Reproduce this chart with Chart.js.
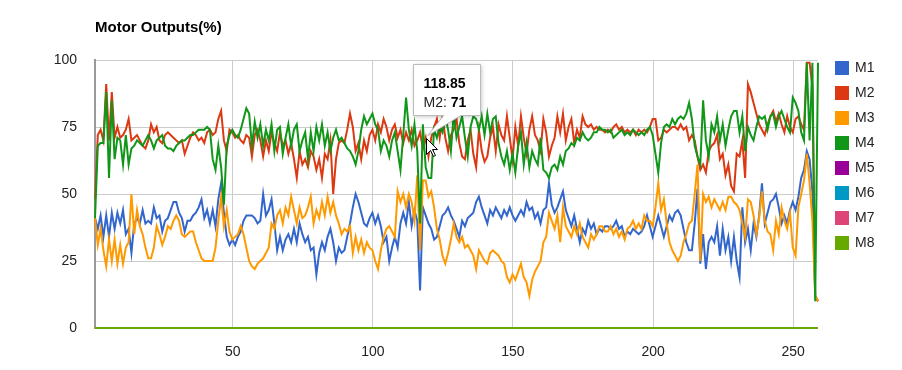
<!DOCTYPE html>
<html>
<head>
<meta charset="utf-8">
<title>Motor Outputs(%)</title>
<script src="https://cdn.jsdelivr.net/npm/chart.js@4.4.1/dist/chart.umd.min.js"></script>
<style>
  html, body { margin: 0; padding: 0; background: #fff; }
  #wrap { width: 902px; height: 370px; }
</style>
</head>
<body>
<div id="wrap"><canvas id="moteurs" width="902" height="370"></canvas></div>
<script>
// samples: x starts at 0.85 and goes up by 1 per sample
const xStart = 0.85;
const xStep = 1;

const m1 = [
  41, 37, 42, 34, 42, 34, 43, 37, 43, 39, 44, 35, 37, 28, 39, 41, 39, 44, 39, 40,
  39, 45, 41, 42, 36, 40, 41, 44, 47, 47, 43, 41, 36, 40, 40, 42, 43, 45, 48, 41,
  44, 39, 44, 38, 48, 54, 43, 34, 31, 33, 31, 34, 36, 40, 42, 42, 42, 41, 39, 40,
  50, 42, 44,
  48, 39, 29, 34, 29, 33, 35, 32, 37, 32, 39, 35, 32, 34, 29, 30, 20, 28, 32, 29,
  34, 37, 32, 25, 30, 28, 29, 34, 39, 45, 50, 47, 43, 39, 38, 41, 43, 39, 42, 38,
  32, 34, 25, 30, 34, 30, 39, 43, 39, 47, 38, 44, 40, 14, 45, 42, 39, 37, 33,
  34, 38, 42, 43, 45, 42, 40, 37, 34, 40, 38, 41, 42, 43, 47, 49, 45, 42, 39, 44,
  42, 45, 43, 41, 44, 42, 45, 42, 40, 42, 44, 42, 47, 44, 45, 41, 43, 39, 44, 45,
  54, 46, 43, 45, 48, 51, 44, 41, 38, 42, 37, 32, 37, 35, 40, 37, 39, 35, 37, 36,
  38,
  38, 37, 38, 40, 37, 38, 34, 36, 35, 37, 36, 35, 36, 38, 42,
  38, 34, 38, 42, 38, 34, 38, 42, 40, 43, 44, 42, 37, 32, 29,
  29, 39, 52, 24, 35, 22, 32, 34, 32, 38, 27, 37, 29, 34, 25,
  34, 25, 19, 45, 32, 37, 29, 39, 34, 42, 54, 39, 43, 47, 48, 50, 45, 39, 42, 39,
  44, 47, 44, 49, 56, 59, 66, 63, 51, 12, 10
];

const m2 = [
  48, 72, 74, 70, 91, 70, 88, 71, 75, 71, 72, 74, 78, 70, 71, 72, 70, 68, 67, 70,
  76, 73, 75, 70, 69, 72, 73, 72, 71, 70, 69, 70, 65, 68, 71, 73, 72, 70, 71, 69,
  73, 74, 72, 73, 78, 81, 70, 66, 74, 73, 71, 72, 70, 69, 72, 71, 64, 72, 74, 70,
  64, 70, 66,
  73, 69, 66, 73, 68, 70, 65, 69, 63, 56, 66, 61, 63, 60, 66, 64, 59, 63, 56, 65,
  63, 70, 50, 63, 69, 70, 69, 74, 80, 75, 66, 69, 63, 70, 66, 72, 74, 70, 76, 73,
  78, 75, 70, 74, 76, 71, 74, 69, 73, 70, 74, 68, 70, 73, 67, 71, 64, 71, 75,
  78, 71, 79, 71, 66, 72, 74, 78, 69, 64, 63, 70, 74, 65, 60, 74, 66, 62, 64, 71,
  75, 66, 76, 72, 70, 79, 71, 63, 75, 68, 79, 71, 65, 74, 79, 72, 70, 66, 78, 73,
  64, 68, 71, 79, 73, 80, 70, 75, 78, 69, 74, 71, 79, 76, 75, 76, 74, 75, 74, 74,
  73,
  74, 73, 75, 76, 74, 75, 73, 74, 73, 74, 72, 74, 73, 74, 73,
  75, 78, 78, 70, 71, 74, 73, 74, 75, 75, 74, 76, 74, 75, 70, 72,
  70, 64, 59, 61, 58, 66, 68, 69, 72, 63, 65, 57, 61, 53, 51, 65, 64, 70, 56, 91,
  88, 84, 80, 76, 74, 72, 76, 79, 81, 77, 80, 76, 73, 79, 75, 73, 78, 79, 76, 74,
  99, 99, 90, 12, 10
];

const m3 = [
  41, 31, 37, 29, 23, 33, 25, 33, 24, 31, 24, 30, 32, 50, 35, 44, 38, 35, 30, 26,
  26, 30, 38, 35, 31, 34, 38, 37, 40, 42, 40, 35, 34, 35, 36, 36, 32, 29, 26, 25,
  25, 25, 25, 30, 40, 49, 38, 44, 36, 33, 34, 35, 38, 35, 30, 25, 23, 22, 24, 25,
  26, 28, 30,
  39, 37, 42, 44, 39, 45, 42, 49, 44, 39, 45, 41, 42, 45, 49, 39, 44, 41, 47, 42,
  49, 43, 47, 42, 39, 35, 37, 36, 38, 28, 34, 29, 33, 28, 32, 30, 29, 25, 22, 29,
  34, 37, 38, 36, 34, 51, 47, 50, 45, 50, 47, 40, 57, 29, 55, 55, 49, 51, 45,
  37, 33, 27, 24, 28, 33, 39, 34, 32, 34, 30, 31, 29, 27, 22, 29, 27, 25, 24, 28,
  29, 28, 27, 25, 24, 19, 17, 20, 18, 21, 24, 19, 17, 12, 18, 21, 23, 25, 32, 34,
  43, 40, 37, 42, 32, 45, 38, 36, 34, 38, 35, 39, 34, 32, 30, 35, 33, 35, 38, 38,
  36,
  36, 38, 35, 37, 34, 36, 33, 37, 38, 40, 37, 39, 37, 42, 40,
  40, 38, 45, 54, 44, 48, 39, 32, 29, 27, 25, 27, 32, 35, 39, 40,
  50, 61, 25, 50, 47, 49, 45, 48, 46, 44, 47, 44, 49, 49, 47, 46, 44, 39, 34, 48,
  47, 42, 35, 41, 51, 40, 36, 35, 29, 40, 35, 45, 40, 37, 43, 30, 27, 45, 50, 55,
  65, 54, 40, 12, 10
];

const m4 = [
  41, 68, 69, 69, 88, 56, 85, 63, 71, 70, 61, 72, 61, 67, 68, 70, 69, 68, 70, 72,
  70, 67, 70, 71, 72, 68, 67, 67, 66, 68, 69, 70, 70, 71, 72, 72, 73, 74, 74, 74,
  75, 74, 63, 59, 68, 60, 46, 68, 72, 74, 72, 71, 74, 78, 82, 80, 68, 77, 71, 76,
  68, 74, 70,
  76, 66, 74, 75, 65, 71, 76, 68, 74, 76, 66, 70, 73, 63, 73, 66, 75, 70, 76, 68,
  73, 66, 71, 74, 70, 71, 69, 67, 66, 64, 61, 66, 74, 79, 76, 78, 80, 76, 74, 66,
  70, 68,
  64, 70, 73, 66, 59, 72, 86, 74, 68, 76, 66, 39, 76, 60, 56, 56, 74,
  71, 75, 73, 79, 74, 66, 80, 71, 75, 79, 71, 64, 75, 79, 78, 74, 79, 72, 80, 73,
  78, 79, 69, 64, 61, 66, 59, 65, 58, 68, 73, 61, 69, 60, 66, 63, 61, 71, 59, 58,
  56, 60, 61, 59, 64, 61, 66, 67, 69, 68, 71, 70, 73, 71, 70, 71, 73, 73, 75, 74,
  74,
  73, 74, 71, 72, 73, 74, 72, 73, 72, 74, 73, 72, 73, 72, 74,
  75, 72, 65, 58, 69, 75, 76, 75, 78, 76, 78, 79, 78, 80, 84, 78,
  68, 64, 61, 85, 70, 64, 76, 73, 79, 70, 76, 68, 74, 79, 81, 81, 73, 79, 66, 75,
  72, 70, 75, 79, 78, 79, 74, 79, 80, 75, 79, 81, 78, 75, 73, 86, 84, 81, 73, 70,
  99, 70, 99, 10, 99
];

// M5 to M8 stay at 0 the whole time
const m5 = m1.map(() => 0);
const m6 = m1.map(() => 0);
const m7 = m1.map(() => 0);
const m8 = m1.map(() => 0);

const noms = ['M1', 'M2', 'M3', 'M4', 'M5', 'M6', 'M7', 'M8'];
const couleurs = ['#3366CC', '#DC3912', '#FF9900', '#109618', '#990099', '#0099C6', '#DD4477', '#66AA00'];
const series = [m1, m2, m3, m4, m5, m6, m7, m8];

const xTicks = [50, 100, 150, 200, 250];
const yTicks = [0, 25, 50, 75, 100];

const xs = m1.map((v, i) => Math.round((xStart + i * xStep) * 100) / 100);

// point shown in the hover box
const survol = { serie: 1, index: 118 };

const police = 'Arial, "Liberation Sans", sans-serif';

const decor = {
  id: 'decor',
  afterDraw(chart) {
    const ctx = chart.ctx;
    ctx.save();

    // titre
    ctx.fillStyle = '#000';
    ctx.font = 'bold 15px ' + police;
    ctx.textAlign = 'left';
    ctx.textBaseline = 'alphabetic';
    ctx.fillText('Motor Outputs(%)', 95, 32);

    // legende
    ctx.font = '14px ' + police;
    ctx.textBaseline = 'middle';
    chart.data.datasets.forEach((ds, i) => {
      const y = 61 + i * 25;
      ctx.fillStyle = ds.borderColor;
      ctx.fillRect(835, y, 14, 14);
      ctx.fillStyle = '#222';
      ctx.fillText(ds.label, 855, y + 7.5);
    });

    // info-bulle
    const ds = chart.data.datasets[survol.serie];
    const px = chart.scales.x.getPixelForValue(xs[survol.index]);
    const py = chart.scales.y.getPixelForValue(ds.data[survol.index]);
    const l = Math.round(px - 13) + 0.5;
    const t = Math.round(py - 74) + 0.5;
    const w = 67, h = 51;
    ctx.beginPath();
    ctx.moveTo(l, t);
    ctx.lineTo(l + w, t);
    ctx.lineTo(l + w, t + h);
    ctx.lineTo(px + 35, t + h);
    ctx.lineTo(px + 2, py - 2);
    ctx.lineTo(px + 18, t + h);
    ctx.lineTo(l, t + h);
    ctx.closePath();
    ctx.shadowColor = 'rgba(0,0,0,0.25)';
    ctx.shadowBlur = 4;
    ctx.shadowOffsetX = 1;
    ctx.shadowOffsetY = 1;
    ctx.fillStyle = '#fff';
    ctx.fill();
    ctx.shadowColor = 'transparent';
    ctx.strokeStyle = '#bbb';
    ctx.lineWidth = 1;
    ctx.stroke();

    ctx.textBaseline = 'alphabetic';
    ctx.fillStyle = '#000';
    ctx.font = 'bold 14px ' + police;
    ctx.fillText(String(xs[survol.index]), l + 10, t + 23);
    ctx.font = '14px ' + police;
    const debut = ds.label + ': ';
    ctx.fillStyle = '#222';
    ctx.fillText(debut, l + 10, t + 42);
    const dx = ctx.measureText(debut).width;
    ctx.font = 'bold 14px ' + police;
    ctx.fillStyle = '#000';
    ctx.fillText(String(ds.data[survol.index]), l + 10 + dx, t + 42);

    // pointeur de souris
    const cx = Math.round(px) + 0.5, cy = Math.round(py) + 0.5;
    ctx.beginPath();
    ctx.moveTo(cx, cy);
    ctx.lineTo(cx, cy + 16);
    ctx.lineTo(cx + 4, cy + 12);
    ctx.lineTo(cx + 7, cy + 18);
    ctx.lineTo(cx + 9, cy + 17);
    ctx.lineTo(cx + 6, cy + 11);
    ctx.lineTo(cx + 11, cy + 11);
    ctx.closePath();
    ctx.fillStyle = '#fff';
    ctx.fill();
    ctx.strokeStyle = '#000';
    ctx.stroke();

    ctx.restore();
  }
};

new Chart(document.getElementById('moteurs'), {
  type: 'line',
  data: {
    labels: xs,
    datasets: series.map((valeurs, i) => ({
      label: noms[i],
      data: valeurs,
      borderColor: couleurs[i],
      backgroundColor: couleurs[i],
      borderWidth: 2,
      pointRadius: 0,
      tension: 0,
      fill: false,
      clip: false,
      order: 8 - i
    }))
  },
  options: {
    responsive: false,
    animation: false,
    events: [],
    layout: { padding: { top: 60, right: 84, left: 0, bottom: 0 } },
    plugins: {
      legend: { display: false },
      tooltip: { enabled: false },
      title: { display: false }
    },
    scales: {
      x: {
        type: 'linear',
        min: xs[0],
        max: xs[xs.length - 1],
        afterFit: (s) => { s.height = 42; },
        afterBuildTicks: (s) => { s.ticks = xTicks.map(v => ({ value: v })); },
        grid: { color: '#cccccc', drawTicks: false },
        border: { display: false },
        ticks: { color: '#222', font: { family: police, size: 14 }, padding: 16, maxRotation: 0 }
      },
      y: {
        min: 0,
        max: 100,
        afterFit: (s) => { s.width = 95; },
        afterBuildTicks: (s) => { s.ticks = yTicks.map(v => ({ value: v })); },
        grid: { color: '#cccccc', drawTicks: false },
        border: { display: true, color: '#999999', width: 2 },
        ticks: { color: '#222', font: { family: police, size: 14 }, padding: 18 }
      }
    }
  },
  plugins: [decor]
});
</script>
</body>
</html>
